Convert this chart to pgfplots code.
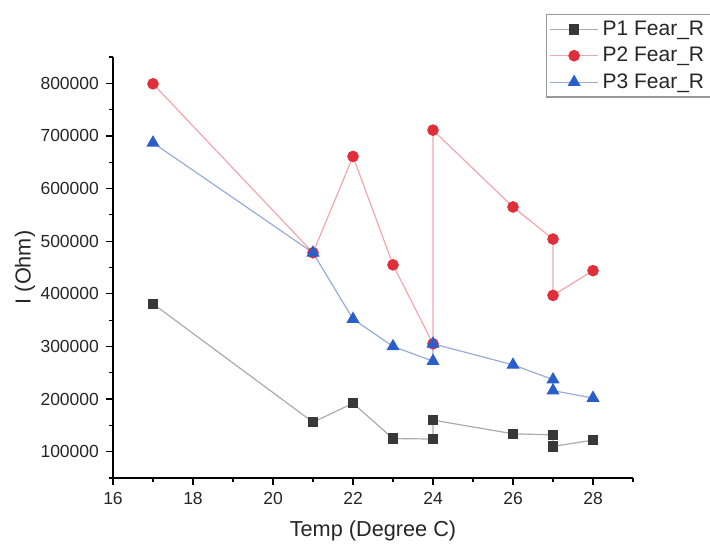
\documentclass[border=0pt]{standalone}
\usepackage{pgfplots}
\pgfplotsset{compat=1.18}
\usepackage{fontspec}
\setmainfont{Liberation Sans}
\definecolor{txt}{HTML}{262626}
\definecolor{p1m}{HTML}{383838}
\definecolor{p1l}{HTML}{ABABAB}
\definecolor{p2m}{HTML}{DF2F3B}
\definecolor{p2l}{HTML}{F2A8AC}
\definecolor{p3m}{HTML}{2A5EC8}
\definecolor{p3l}{HTML}{98ACD8}
\begin{document}
\begin{tikzpicture}
\begin{axis}[
  scale only axis,
  width=260pt, height=210.5pt,
  xmin=16, xmax=29, ymin=50000, ymax=850000,
  axis x line=bottom, axis y line=left,
  axis line style={-, line width=0.6pt, black},
  xtick={16,18,...,28},
  minor xtick={17,19,...,29},
  ytick={100000,200000,...,800000},
  minor ytick={50000,150000,...,850000},
  tick align=outside,
  major tick length=3.5pt, minor tick length=2pt,
  tick style={black, line width=0.6pt},
  scaled y ticks=false,
  yticklabel style={/pgf/number format/fixed, /pgf/number format/1000 sep={}},
  /pgf/number format/assume math mode=true,
  tick label style={font=\fontsize{8.75}{10}\selectfont, text=txt},
  xlabel={Temp (Degree C)},
  ylabel={I (Ohm)},
  label style={font=\fontsize{10.85}{12}\selectfont, text=txt},
  xlabel style={at={(axis description cs:0.5,-0.126)}, anchor=center},
  ylabel style={at={(axis description cs:-0.169,0.5)}, anchor=center},
  legend style={at={(axis description cs:0.8327,1.102)}, anchor=north west,
    font=\fontsize{10.5}{12.75}\selectfont, text=txt, draw=gray!80, line width=0.6pt,
    fill=white, inner xsep=1.5pt, inner ysep=1pt, row sep=0.4pt},
  legend cell align=left,
  legend image code/.code={
    \draw[mark repeat=2,mark phase=2] plot coordinates {(0cm,0cm) (0.42cm,0cm) (0.84cm,0cm)};
  },
  clip=false,
]
\addplot[p1l, line width=0.6pt, mark=square*, mark size=2.3pt, mark options={p1m, fill=p1m}]
  coordinates {(17,381000) (21,156000) (22,192000) (23,125000) (24,124000) (24,160000) (26,134000) (27,132000) (27,110000) (28,122000)};
\addlegendentry{P1 Fear\_R}
\addplot[p2l, line width=0.6pt, mark=*, mark size=2.6pt, mark options={p2m, fill=p2m}]
  coordinates {(17,799000) (21,478000) (22,661000) (23,455000) (24,305000) (24,711000) (26,565000) (27,504000) (27,397000) (28,444000)};
\addlegendentry{P2 Fear\_R}
\addplot[p3l, line width=0.6pt, mark=triangle*, mark size=3.2pt, mark options={p3m, fill=p3m}]
  coordinates {(17,687000) (21,478000) (22,352000) (23,300000) (24,272000) (24,305000) (26,265000) (27,237000) (27,216000) (28,202000)};
\addlegendentry{P3 Fear\_R}
\end{axis}
\pgfresetboundingbox
\useasboundingbox (-56.5pt,-33pt) rectangle (298.5pt,239pt);
\end{tikzpicture}
\end{document}
